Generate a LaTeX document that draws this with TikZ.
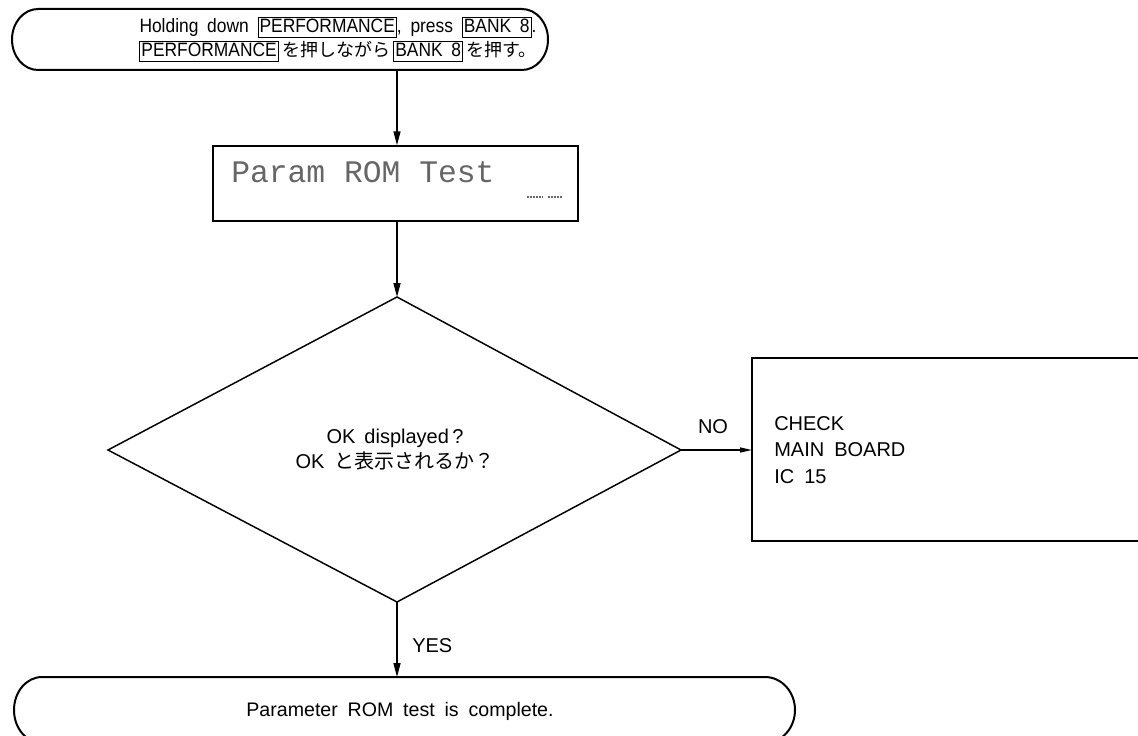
\documentclass[tikz,border=0pt]{standalone}
\usepackage{fontspec}
\setmainfont{Liberation Sans}[WordSpace=1.8]
\newfontfamily\topfont{Liberation Sans}[WordSpace=1.8,FakeStretch=0.9]
\newfontfamily\jp{Noto Sans CJK JP}
\newfontfamily\lcdfont{Liberation Mono}
\usetikzlibrary{shapes.geometric,arrows.meta}
\newcommand\kbox[1]{{\setlength\fboxsep{0.8pt}\setlength\fboxrule{0.75pt}\fbox{\rule[-2.6pt]{0pt}{12.4pt}#1}}}
\tikzset{
  line/.style={line width=1.1pt},
  flow/.style={line width=1.1pt,-{Stealth[length=10.5pt,width=5.25pt,inset=0pt]}},
  lbl/.style={font=\fontsize{15}{18}\selectfont,inner sep=0pt},
  toplbl/.style={font=\topfont\fontsize{14.5}{18.3}\selectfont,inner sep=0pt},
}
\begin{document}
\begin{tikzpicture}[x=0.75pt,y=-0.75pt]
\useasboundingbox (0,0) rectangle (1138,735);
% top terminal
\draw[line width=1.5pt] (38,9) -- (522,9) arc[start angle=-90,end angle=90,x radius=26,y radius=30.5]
  -- (38,70) arc[start angle=90,end angle=270,x radius=26,y radius=30.5] -- cycle;
\node[toplbl,align=center] (start) at (338,39.5) {Holding down \kbox{PERFORMANCE}, press \kbox{BANK 8}.\\
  \kbox{PERFORMANCE}\,{\jp\fontsize{13.5}{18}\selectfont を押しながら}\,\kbox{BANK 8}\,{\jp\fontsize{13.5}{18}\selectfont を押す。}};
\coordinate (startb) at (397,70);
% LCD box
\node[draw,line width=1.1pt,minimum width=273.75pt,minimum height=56.25pt,inner sep=0pt] (lcd) at (395.5,183.5) {};
\node[font=\lcdfont\fontsize{23.5}{26}\selectfont,text=black!60,anchor=base west,inner sep=0pt] (lcdtxt) at (231,182) {Param ROM Test};
\draw[black!60,line width=1pt,dash pattern=on 1.5pt off 0.8pt] (527,197) -- (543,197) (548,197) -- (563,197);
\draw[flow] (startb) -- (lcd.north -| startb);
% diamond
\coordinate (dT) at (397,297);
\coordinate (dL) at (108,450);
\coordinate (dR) at (681,450);
\coordinate (dB) at (397,602);
\draw[line] (dT) -- (dR) -- (dB) -- (dL) -- cycle;
\node[lbl,align=center] (q) at (395,449.5) {OK\hspace{0.45em}displayed\,?\\[1pt]OK {\jp と表示されるか？}};
\draw[flow] (lcd.south -| dT) -- (dT);
% check box
\draw[line] (1150,358) -- (752,358) -- (752,541) -- (1150,541);
\node[lbl,align=left,anchor=west] (chk) at (774,450) {CHECK\\[2pt]MAIN BOARD\\[2pt]IC 15};
\coordinate (chkL) at (752,450);
\draw[line width=1pt,-{Stealth[length=9pt,width=3.75pt,inset=0pt]}] (dR) -- (chkL);
\node[lbl] (no) at (713,427) {NO};
% end terminal
\draw[line width=1.5pt] (42,677) -- (765,677) arc[start angle=-90,end angle=90,x radius=30,y radius=33]
  -- (42,743) arc[start angle=90,end angle=270,x radius=28,y radius=33] -- cycle;
\node[lbl,font=\fontsize{14.7}{18}\selectfont] (end) at (400,711) {Parameter ROM test is complete.};
\coordinate (endt) at (397,677);
\draw[flow] (dB) -- (endt);
\node[lbl,anchor=west] (yes) at (412,646) {YES};
\end{tikzpicture}
\end{document}
